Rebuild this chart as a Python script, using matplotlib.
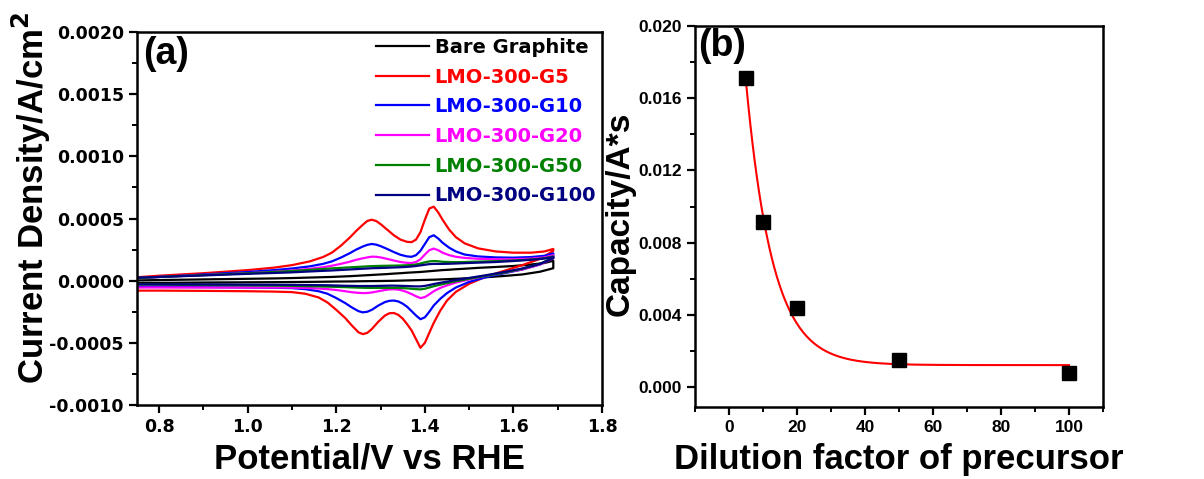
import numpy as np
import matplotlib
matplotlib.use("Agg")
import matplotlib.pyplot as plt
from matplotlib.ticker import MultipleLocator, FormatStrFormatter

# ---------------- data: panel (a) CV curves (current density in 1e-4 A/cm^2) -------------
SCALE = 1e-4
v_anodic = [0.72, 0.80, 0.90, 1.00, 1.06, 1.10, 1.14, 1.17, 1.19, 1.21, 1.23, 1.245, 1.26, 1.27,
            1.28, 1.29, 1.30, 1.315, 1.33, 1.345, 1.36, 1.37, 1.38, 1.39, 1.40, 1.41, 1.42, 1.43,
            1.44, 1.455, 1.47, 1.49, 1.52, 1.56, 1.60, 1.64, 1.67, 1.69]
v_cathodic = [0.72, 0.80, 0.90, 1.00, 1.06, 1.10, 1.13, 1.16, 1.18, 1.20, 1.22, 1.235, 1.25, 1.26,
              1.27, 1.28, 1.295, 1.31, 1.32, 1.33, 1.34, 1.35, 1.36, 1.37, 1.38, 1.39, 1.40, 1.41,
              1.42, 1.435, 1.45, 1.47, 1.50, 1.54, 1.58, 1.62, 1.66, 1.69]

names = ["Bare Graphite", "LMO-300-G5", "LMO-300-G10", "LMO-300-G20", "LMO-300-G50", "LMO-300-G100"]
colors = ["#000000", "#FF0000", "#0000FF", "#FF00FF", "#008000", "#000080"]

black_up = [0.0, 0.05, 0.1, 0.15, 0.18, 0.21, 0.25, 0.28, 0.3, 0.33, 0.36, 0.39, 0.42, 0.44,
            0.46, 0.48, 0.5, 0.53, 0.57, 0.6, 0.64, 0.66, 0.68, 0.7, 0.73, 0.76, 0.79, 0.82,
            0.85, 0.88, 0.92, 0.96, 1.03, 1.1, 1.18, 1.3, 1.42, 1.6]
black_dn = [-0.2, -0.18, -0.15, -0.13, -0.12, -0.11, -0.1, -0.09, -0.08, -0.07, -0.065, -0.06, -0.05, -0.045,
            -0.04, -0.035, -0.03, -0.02, -0.015, -0.01, 0.0, 0.01, 0.02, 0.03, 0.04, 0.05, 0.06, 0.07,
            0.08, 0.1, 0.12, 0.15, 0.2, 0.28, 0.38, 0.5, 0.72, 1.0]

red_up = [0.2, 0.4, 0.6, 0.85, 1.05, 1.25, 1.55, 1.9, 2.25, 2.8, 3.45, 4.0, 4.5, 4.8,
          4.9, 4.8, 4.55, 4.1, 3.65, 3.3, 3.12, 3.1, 3.3, 3.9, 4.9, 5.8, 5.95, 5.5,
          4.9, 4.1, 3.5, 3.0, 2.6, 2.35, 2.25, 2.25, 2.35, 2.55]
red_dn = [-0.8, -0.8, -0.82, -0.85, -0.88, -0.92, -1.05, -1.35, -1.75, -2.35, -3.0, -3.6, -4.15, -4.3,
          -4.2, -3.9, -3.3, -2.8, -2.62, -2.6, -2.75, -3.05, -3.5, -4.0, -4.7, -5.4, -5.0, -4.2,
          -3.4, -2.4, -1.6, -0.9, -0.25, 0.35, 0.8, 1.25, 1.75, 2.4]

blue_up = [0.15, 0.3, 0.5, 0.7, 0.85, 0.98, 1.15, 1.35, 1.55, 1.85, 2.2, 2.5, 2.75, 2.88,
           2.95, 2.9, 2.78, 2.55, 2.3, 2.08, 1.95, 1.92, 2.05, 2.4, 2.95, 3.5, 3.65, 3.4,
           3.05, 2.65, 2.35, 2.1, 1.95, 1.87, 1.85, 1.9, 2.0, 2.2]
blue_dn = [-0.5, -0.5, -0.52, -0.55, -0.57, -0.6, -0.68, -0.85, -1.05, -1.4, -1.8, -2.15, -2.45, -2.55,
           -2.5, -2.35, -2.0, -1.72, -1.62, -1.6, -1.67, -1.85, -2.1, -2.45, -2.8, -3.1, -2.95, -2.5,
           -2.0, -1.45, -1.0, -0.55, -0.1, 0.3, 0.6, 0.9, 1.3, 1.9]

mag_up = [0.15, 0.3, 0.45, 0.6, 0.72, 0.82, 0.95, 1.08, 1.2, 1.35, 1.52, 1.68, 1.8, 1.87,
          1.93, 1.92, 1.87, 1.75, 1.62, 1.5, 1.43, 1.42, 1.5, 1.72, 2.1, 2.45, 2.58, 2.45,
          2.25, 2.05, 1.92, 1.83, 1.76, 1.72, 1.72, 1.77, 1.87, 2.05]
mag_dn = [-0.55, -0.55, -0.55, -0.55, -0.55, -0.56, -0.58, -0.63, -0.68, -0.75, -0.85, -0.93, -0.98, -1.0,
          -0.99, -0.95, -0.85, -0.75, -0.7, -0.69, -0.72, -0.8, -0.92, -1.08, -1.25, -1.4, -1.32, -1.1,
          -0.85, -0.58, -0.38, -0.15, 0.1, 0.4, 0.65, 0.9, 1.3, 1.8]

green_up = [0.15, 0.3, 0.45, 0.6, 0.7, 0.78, 0.87, 0.94, 0.99, 1.03, 1.07, 1.1, 1.13, 1.15,
            1.17, 1.18, 1.19, 1.2, 1.21, 1.22, 1.24, 1.26, 1.3, 1.38, 1.47, 1.55, 1.58, 1.56,
            1.52, 1.5, 1.49, 1.5, 1.53, 1.57, 1.62, 1.7, 1.8, 1.95]
green_dn = [-0.3, -0.32, -0.35, -0.38, -0.4, -0.42, -0.44, -0.46, -0.48, -0.5, -0.52, -0.54, -0.56, -0.57,
            -0.58, -0.58, -0.58, -0.58, -0.58, -0.58, -0.59, -0.6, -0.62, -0.65, -0.68, -0.7, -0.65, -0.55,
            -0.45, -0.32, -0.2, -0.05, 0.15, 0.4, 0.65, 0.95, 1.35, 1.85]

navy_up = [0.2, 0.3, 0.42, 0.55, 0.62, 0.67, 0.74, 0.79, 0.82, 0.86, 0.9, 0.93, 0.96, 0.98,
           1.0, 1.01, 1.02, 1.04, 1.06, 1.08, 1.11, 1.14, 1.18, 1.23, 1.28, 1.33, 1.35, 1.35,
           1.35, 1.36, 1.38, 1.41, 1.45, 1.5, 1.58, 1.68, 1.78, 1.9]
navy_dn = [-0.3, -0.3, -0.3, -0.32, -0.33, -0.34, -0.35, -0.36, -0.37, -0.39, -0.41, -0.42, -0.43, -0.43,
           -0.43, -0.43, -0.42, -0.41, -0.4, -0.4, -0.41, -0.42, -0.43, -0.45, -0.46, -0.46, -0.42, -0.35,
           -0.27, -0.17, -0.08, 0.05, 0.22, 0.45, 0.7, 0.98, 1.35, 1.8]

anodic = [black_up, red_up, blue_up, mag_up, green_up, navy_up]
cathodic = [black_dn, red_dn, blue_dn, mag_dn, green_dn, navy_dn]

# ---------------- data: panel (b) ----------------
dilution = [5, 10, 20, 50, 100]
capacity = [0.01712, 0.00912, 0.00438, 0.00152, 0.00078]
# exponential decay fit parameters: y = y0 + A1*exp(-x/t1)
fit_y0, fit_A1, fit_t1 = 0.00122, 0.0298, 7.8
fit_x_range = (5, 100)

# ---------------- figure ----------------
plt.rcParams['font.family'] = ['Liberation Sans', 'DejaVu Sans']
plt.rcParams['font.weight'] = 'bold'

fig = plt.figure(figsize=(12.04, 4.79), dpi=100)
ax1 = fig.add_axes([137/1204, 1-405/479, 465/1204, 373/479])
ax2 = fig.add_axes([695/1204, 1-407/479, 408/1204, 381/479])

for up, dn, c, n in zip(anodic, cathodic, colors, names):
    xs = list(v_anodic) + list(v_cathodic[::-1])
    ys = [v*SCALE for v in up] + [v*SCALE for v in dn[::-1]]
    ax1.plot(xs, ys, color=c, lw=1.6, label=n, solid_joinstyle='round')

ax1.set_xlim(0.75, 1.8)
ax1.set_ylim(-0.001, 0.002)
ax1.xaxis.set_major_locator(MultipleLocator(0.2))
ax1.xaxis.set_minor_locator(MultipleLocator(0.1))
ax1.yaxis.set_major_locator(MultipleLocator(0.0005))
ax1.yaxis.set_minor_locator(MultipleLocator(0.00025))
ax1.xaxis.set_major_formatter(FormatStrFormatter('%.1f'))
ax1.yaxis.set_major_formatter(FormatStrFormatter('%.4f'))

ax1.set_xlabel('Potential/V vs RHE', fontsize=25, fontweight='bold')
ax1.set_ylabel('Current Density/A/cm$^\\mathbf{2}$', fontsize=25, fontweight='bold')
ax1.xaxis.set_label_coords(0.5, -0.10)
ax1.yaxis.set_label_coords(-0.18, 0.555)
ax1.text(0.013, 0.99, '(a)', transform=ax1.transAxes, fontsize=27, fontweight='bold',
         va='top', ha='left')

leg = ax1.legend(loc='upper right', bbox_to_anchor=(1.0, 1.0), frameon=False,
                 prop={'size': 14, 'weight': 'bold', 'family': 'DejaVu Sans'},
                 handlelength=2.7, handletextpad=0.3,
                 labelspacing=0.55, borderaxespad=0.1, borderpad=0.2)
for t, c in zip(leg.get_texts(), colors):
    t.set_color(c)

# panel b
ax2.plot(dilution, capacity, 's', color='black', ms=10, zorder=3)
xf = np.linspace(fit_x_range[0], fit_x_range[1], 300)
ax2.plot(xf, fit_y0 + fit_A1*np.exp(-xf/fit_t1), color='#FF0000', lw=1.5, zorder=2)
ax2.set_xlim(-10, 110)
ax2.set_ylim(-0.0011, 0.020)
ax2.xaxis.set_major_locator(MultipleLocator(20))
ax2.xaxis.set_minor_locator(MultipleLocator(10))
ax2.yaxis.set_major_locator(MultipleLocator(0.004))
ax2.yaxis.set_minor_locator(MultipleLocator(0.002))
ax2.yaxis.set_major_formatter(FormatStrFormatter('%.3f'))
ax2.set_xlabel('Dilution factor of precursor', fontsize=25, fontweight='bold')
ax2.set_ylabel('Capacity/A*s', fontsize=24, fontweight='bold')
ax2.xaxis.set_label_coords(0.5, -0.095)
ax2.yaxis.set_label_coords(-0.145, 0.507)
ax2.text(0.008, 0.995, '(b)', transform=ax2.transAxes, fontsize=27, fontweight='bold',
         va='top', ha='left')

for ax, tfs, fam in ((ax1, 12.5, 'DejaVu Sans'), (ax2, 12.5, 'Liberation Sans')):
    for s in ax.spines.values():
        s.set_linewidth(1.8)
    ax.tick_params(which='major', direction='out', length=6, width=1.6, top=False, right=False,
                   labelsize=tfs, labelfontfamily=fam)
    ax.tick_params(which='minor', direction='out', length=3.5, width=1.4, top=False, right=False)

fig.savefig('out.png', dpi=100)
